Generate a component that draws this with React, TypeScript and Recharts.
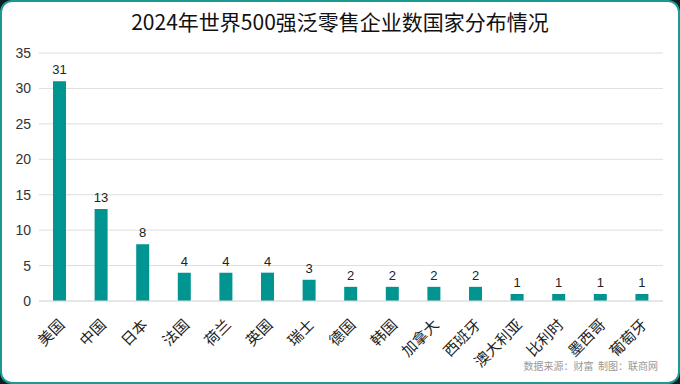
import React from "react";
import { BarChart, Bar, XAxis, YAxis, CartesianGrid, LabelList } from "recharts";

const countries = [
  "美国", "中国", "日本", "法国", "荷兰", "英国", "瑞士", "德国",
  "韩国", "加拿大", "西班牙", "澳大利亚", "比利时", "墨西哥", "葡萄牙",
];
const counts = [31, 13, 8, 4, 4, 4, 3, 2, 2, 2, 2, 1, 1, 1, 1];
const yTicks = [0, 5, 10, 15, 20, 25, 30, 35];

const data = countries.map((name, i) => ({ name, value: counts[i] }));

const FONT = '"Liberation Sans", "Noto Sans CJK SC", sans-serif';

function XTick({ x, y, payload }: any) {
  return (
    <g transform={`translate(${x + 2},${y + 13})`}>
      <text
        transform="rotate(-45)"
        textAnchor="end"
        dy="0.35em"
        fontSize={15}
        fill="#222"
        fontFamily='"Noto Sans CJK SC", sans-serif'
      >
        {payload.value}
      </text>
    </g>
  );
}

export default function App() {
  return (
    <div
      style={{
        position: "fixed",
        left: 0,
        top: 0,
        width: 680,
        height: 384,
        background: "#0d1f1f",
      }}
    >
      <div
        style={{
          position: "absolute",
          inset: 0,
          background: "#fff",
          border: "2px solid #1a9a95",
          borderRadius: 12,
          boxSizing: "border-box",
          overflow: "hidden",
        }}
      >
        <div
          style={{
            position: "absolute",
            top: 4,
            left: 0,
            right: 0,
            textAlign: "center",
            fontFamily: '"Noto Sans CJK SC", sans-serif',
            fontSize: 21,
            fontWeight: 400,
            color: "#111",
          }}
        >
          2024年世界500强泛零售企业数国家分布情况
        </div>
        <div style={{ position: "absolute", left: -2, top: -2 }}>
          <BarChart
            width={680}
            height={384}
            data={data}
            margin={{ top: 53, right: 17, left: 0, bottom: 0 }}
            barCategoryGap={0}
          >
            <CartesianGrid vertical={false} stroke="#dedede" />
            <YAxis
              domain={[0, 35]}
              ticks={yTicks}
              width={39}
              axisLine={false}
              tickLine={false}
              tickMargin={2}
              tick={{ fontSize: 14, fill: "#333", fontFamily: FONT }}
            />
            <XAxis
              dataKey="name"
              height={83}
              interval={0}
              axisLine={{ stroke: "#dedede" }}
              tickLine={false}
              tick={<XTick />}
            />
            <Bar dataKey="value" fill="#009591" barSize={13} isAnimationActive={false}>
              <LabelList
                dataKey="value"
                position="top"
                offset={7}
                style={{ fontSize: 13, fill: "#222", fontFamily: FONT }}
              />
            </Bar>
          </BarChart>
        </div>
        <div
          style={{
            position: "absolute",
            right: 20,
            bottom: 9,
            fontFamily: '"Noto Sans CJK SC", sans-serif',
            fontSize: 10,
            color: "#999",
          }}
        >
          数据来源：财富&nbsp;&nbsp;制图：联商网
        </div>
      </div>
    </div>
  );
}
